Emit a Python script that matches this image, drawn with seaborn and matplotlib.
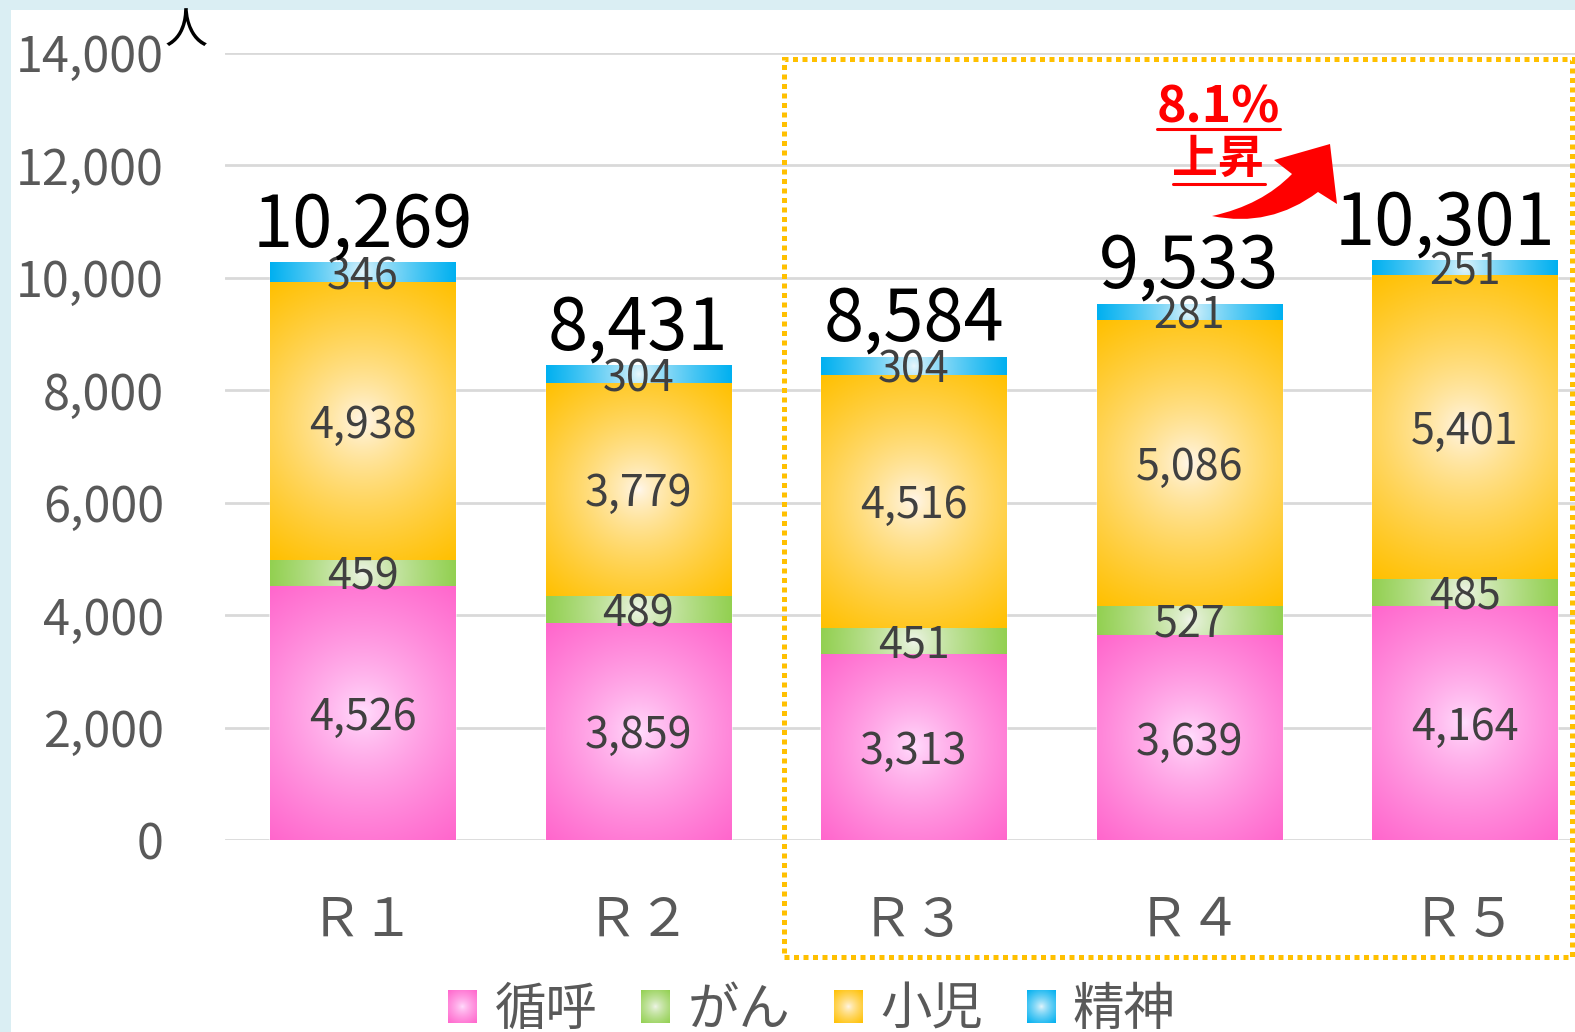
import numpy as np
import pandas as pd
import matplotlib
matplotlib.use("Agg")
import matplotlib.pyplot as plt
import seaborn as sns
from matplotlib.patches import Rectangle, Patch, PathPatch
from matplotlib.path import Path
from matplotlib.lines import Line2D
from matplotlib.colors import to_rgb

# ---------------- data ----------------
categories = ["Ｒ１", "Ｒ２", "Ｒ３", "Ｒ４", "Ｒ５"]
series_names = ["循呼", "がん", "小児", "精神"]
junko = [4526, 3859, 3313, 3639, 4164]
gan = [459, 489, 451, 527, 485]
shoni = [4938, 3779, 4516, 5086, 5401]
seishin = [346, 304, 304, 281, 251]
yticks = [0, 2000, 4000, 6000, 8000, 10000, 12000, 14000]
annotation_pct = "8.1%"
annotation_word = "上昇"
unit_label = "人"

edge_colors = ["#FF66CC", "#92D050", "#FFC000", "#00B0F0"]
center_colors = ["#FFE2FF", "#F3F6EF", "#FFF8F2", "#EEF8FC"]

# ---------------- style ----------------
sns.set_style("white")
plt.rcParams["font.family"] = ["Noto Sans CJK JP", "DejaVu Sans"]

W, H, DPI = 1575, 1032, 100
fig = plt.figure(figsize=(W / DPI, H / DPI), dpi=DPI)
fig.patch.set_facecolor("#DAEEF3")
fig.add_artist(Rectangle((11 / W, 0), 1 - 11 / W, 1 - 10 / H, transform=fig.transFigure,
                         facecolor="white", edgecolor="none", zorder=-10))

PX_PER_CAT = 275.5
ax_left, ax_right = 225 / W, 1.0
ax_bottom, ax_top = 1 - 840 / H, 1 - 53 / H
ax = fig.add_axes([ax_left, ax_bottom, ax_right - ax_left, ax_top - ax_bottom])
ax.set_facecolor("none")

df = pd.DataFrame({"cat": categories, "循呼": junko, "がん": gan, "小児": shoni, "精神": seishin})
layers = [df[s].to_numpy() for s in series_names]
cum = np.cumsum(np.vstack(layers), axis=0)

xmin, xmax = -0.5, -0.5 + (W - 225) / PX_PER_CAT
ax.set_xlim(xmin, xmax)
ax.set_ylim(0, 14000)

layer_patches = {}
for i in reversed(range(4)):
    before = len(ax.patches)
    sns.barplot(data=pd.DataFrame({"cat": categories, "v": cum[i]}), x="cat", y="v",
                color=edge_colors[i], saturation=1, width=0.672, errorbar=None,
                order=categories, ax=ax, zorder=2)
    layer_patches[i] = ax.patches[before:]

ax.set_xlim(xmin, xmax)
ax.set_ylim(0, 14000)


def gradient(edge, center, wpx, hpx, n=160):
    u = np.linspace(-1, 1, n)
    X, Y = np.meshgrid(u, u)
    dx = X * wpx / 2
    dy = Y * hpx / 2
    d = np.sqrt(dx ** 2 + dy ** 2) / np.sqrt((wpx / 2) ** 2 + (hpx / 2) ** 2)
    t = np.clip(d, 0, 1) ** 0.7
    e = np.array(to_rgb(edge))
    c = np.array(to_rgb(center))
    return c[None, None, :] * (1 - t[..., None]) + e[None, None, :] * t[..., None]


px_per_x = ax.transData.transform((1, 0))[0] - ax.transData.transform((0, 0))[0]
px_per_y = (ax.transData.transform((0, 1000))[1] - ax.transData.transform((0, 0))[1]) / 1000.0

for i in range(4):
    for j, p in enumerate(layer_patches[i]):
        x0 = p.get_x()
        w = p.get_width()
        top = p.get_height()
        bottom = cum[i - 1][j] if i > 0 else 0
        img = gradient(edge_colors[i], center_colors[i], w * px_per_x, (top - bottom) * px_per_y)
        ax.imshow(img, extent=[x0, x0 + w, bottom, top], origin="lower", aspect="auto",
                  interpolation="bilinear", zorder=3)
        ax.annotate(f"{layers[i][j]:,}", (x0 + w / 2, (bottom + top) / 2),
                    xytext=(0, -3.5), textcoords="offset points", ha="center", va="center",
                    fontsize=31, color="#404040", zorder=5)

ax.set_xlim(xmin, xmax)
ax.set_ylim(0, 14000)

# totals
total_texts = []
for j, p in enumerate(layer_patches[3]):
    t = ax.annotate(f"{cum[3][j]:,}", (p.get_x() + p.get_width() / 2, cum[3][j]),
                    xytext=(0, 12), textcoords="offset points", ha="center", va="baseline",
                    fontsize=52, color="black", zorder=6)
    total_texts.append(t)

# axes styling
for s in ax.spines.values():
    s.set_visible(False)
ax.set_yticks(yticks)
ax.set_yticklabels([f"{v:,}" for v in yticks])
ax.yaxis.grid(True, color="#D9D9D9", linewidth=2)
ax.set_axisbelow(True)
ax.tick_params(axis="y", length=0, pad=44, labelsize=35, labelcolor="#595959")
ax.tick_params(axis="x", length=0, pad=38, labelsize=38, labelcolor="#595959")
ax.set_xlabel("")
ax.set_ylabel("")

fig.text(186 / W, 1 - 31 / H, unit_label, ha="center", va="center", fontsize=31, color="black")

# dotted highlight box
fig.add_artist(Rectangle((784 / W, 1 - 957 / H), (1572 - 784) / W, (957 - 59) / H,
                         transform=fig.transFigure, fill=False, edgecolor="#FFC000",
                         linewidth=3.6, linestyle=(0, (1, 0.9)), zorder=8))

# annotation text
fig.text(1218 / W, 1 - 108 / H, annotation_pct, ha="center", va="center", fontsize=36,
         fontweight="bold", color="#FF0000", zorder=9)
fig.text(1218 / W, 1 - 160 / H, annotation_word, ha="center", va="center", fontsize=33,
         fontweight="bold", color="#FF0000", zorder=9)
fig.add_artist(Line2D([1157 / W, 1280 / W], [1 - 129 / H, 1 - 129 / H], transform=fig.transFigure,
                      color="#FF0000", linewidth=2.2, zorder=9))
fig.add_artist(Line2D([1173 / W, 1265 / W], [1 - 184 / H, 1 - 184 / H], transform=fig.transFigure,
                      color="#FF0000", linewidth=2.2, zorder=9))


# curved arrow
def fp(x, y):
    return (x / W, 1 - y / H)


verts = [fp(1212, 216), fp(1270, 228), fp(1318, 192), fp(1337, 204), fp(1330, 144),
         fp(1274, 160), fp(1292, 174), fp(1262, 205), fp(1212, 216), fp(1212, 216)]
codes = [Path.MOVETO, Path.CURVE3, Path.CURVE3, Path.LINETO, Path.LINETO,
         Path.LINETO, Path.LINETO, Path.CURVE3, Path.CURVE3, Path.CLOSEPOLY]
fig.add_artist(PathPatch(Path(verts, codes), transform=fig.transFigure, facecolor="#FF0000",
                         edgecolor="none", zorder=9))

# legend
handles = [Patch(facecolor=c, edgecolor="none") for c in edge_colors]
leg = fig.legend(handles, series_names, loc="center", bbox_to_anchor=(812 / W, 1 - 1010 / H),
                 ncol=4, frameon=False, fontsize=37, handlelength=0.55, handleheight=0.6,
                 handletextpad=0.35, columnspacing=0.85, labelcolor="#595959")

fig.canvas.draw()
# keep the last total label inside the figure (as the reference does)
for t in total_texts:
    bb = t.get_window_extent()
    if bb.x1 > W - 20:
        t.set_position((-(bb.x1 - (W - 20)) * 72 / DPI, 12))

for h, ec, cc in zip(leg.legend_handles, edge_colors, center_colors):
    bb = h.get_window_extent()
    lax = fig.add_axes([bb.x0 / W, bb.y0 / H, bb.width / W, bb.height / H])
    lax.imshow(gradient(ec, cc, bb.width, bb.height), aspect="auto", interpolation="bilinear")
    lax.set_axis_off()
    lax.set_zorder(20)

fig.savefig("out.png", dpi=DPI)
